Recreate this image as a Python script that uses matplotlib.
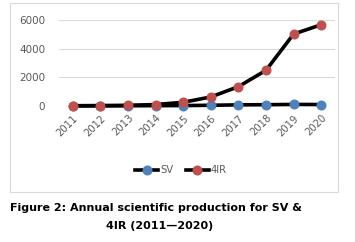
import matplotlib
matplotlib.use("Agg")
from matplotlib import pyplot as plt
from matplotlib.patches import Rectangle
from matplotlib.lines import Line2D

# data
years = ["2011", "2012", "2013", "2014", "2015", "2016", "2017", "2018", "2019", "2020"]
sv = [5, 10, 15, 25, 30, 50, 80, 90, 110, 100]
ir4 = [20, 30, 50, 100, 260, 630, 1350, 2490, 5020, 5670]
yticks = [0, 2000, 4000, 6000]

blue = "#4f81bd"
red = "#c0504d"
grey = "#595959"

fig = plt.figure(figsize=(3.55, 2.42), dpi=100)

# chart frame (excel-like)
fig.patches.append(Rectangle((10/355, 1-192/242), 328/355, 189/242, transform=fig.transFigure,
                             fill=False, edgecolor="#d9d9d9", linewidth=0.8))

ax = fig.add_axes([59/355, 1-106/242, 276/355, 86/242])
x = list(range(len(years)))
ax.plot(x, sv, color="black", linewidth=2.6, marker="o", markersize=6.2,
        markerfacecolor=blue, markeredgecolor=blue, clip_on=False, zorder=3)
ax.plot(x, ir4, color="black", linewidth=2.6, marker="o", markersize=6.2,
        markerfacecolor=red, markeredgecolor=red, clip_on=False, zorder=4)

ax.set_xlim(-0.5, len(years) - 0.5)
ax.set_ylim(0, 6000)
ax.set_yticks(yticks)
ax.set_yticklabels([str(v) for v in yticks], color=grey, fontsize=7.5)
ax.set_xticks(x)
ax.set_xticklabels(years, rotation=45, ha="right", rotation_mode="anchor", color=grey, fontsize=7.2)
ax.tick_params(length=0, pad=5)
ax.tick_params(axis="y", pad=10)
ax.grid(axis="y", color="#d9d9d9", linewidth=0.8)
ax.set_axisbelow(True)
for s in ax.spines.values():
    s.set_visible(False)

handles = [Line2D([], [], color="black", linewidth=2.6, marker="o", markersize=6.2,
                  markerfacecolor=blue, markeredgecolor=blue),
           Line2D([], [], color="black", linewidth=2.6, marker="o", markersize=6.2,
                  markerfacecolor=red, markeredgecolor=red)]
leg = fig.legend(handles, ["SV", "4IR"], loc="center", bbox_to_anchor=(181/355, 1-170/242),
                 ncol=2, frameon=False, fontsize=7.2, handlelength=2.3, handletextpad=0.2,
                 columnspacing=1.2)
for t in leg.get_texts():
    t.set_color(grey)

fig.text(10/355, 1-208/242, "Figure 2: Annual scientific production for SV &",
         fontsize=8, fontweight="bold", ha="left", va="center")
fig.text(160/355, 1-226/242, "4IR (2011\u20142020)",
         fontsize=8, fontweight="bold", ha="center", va="center")

fig.savefig("out.png", dpi=100)
